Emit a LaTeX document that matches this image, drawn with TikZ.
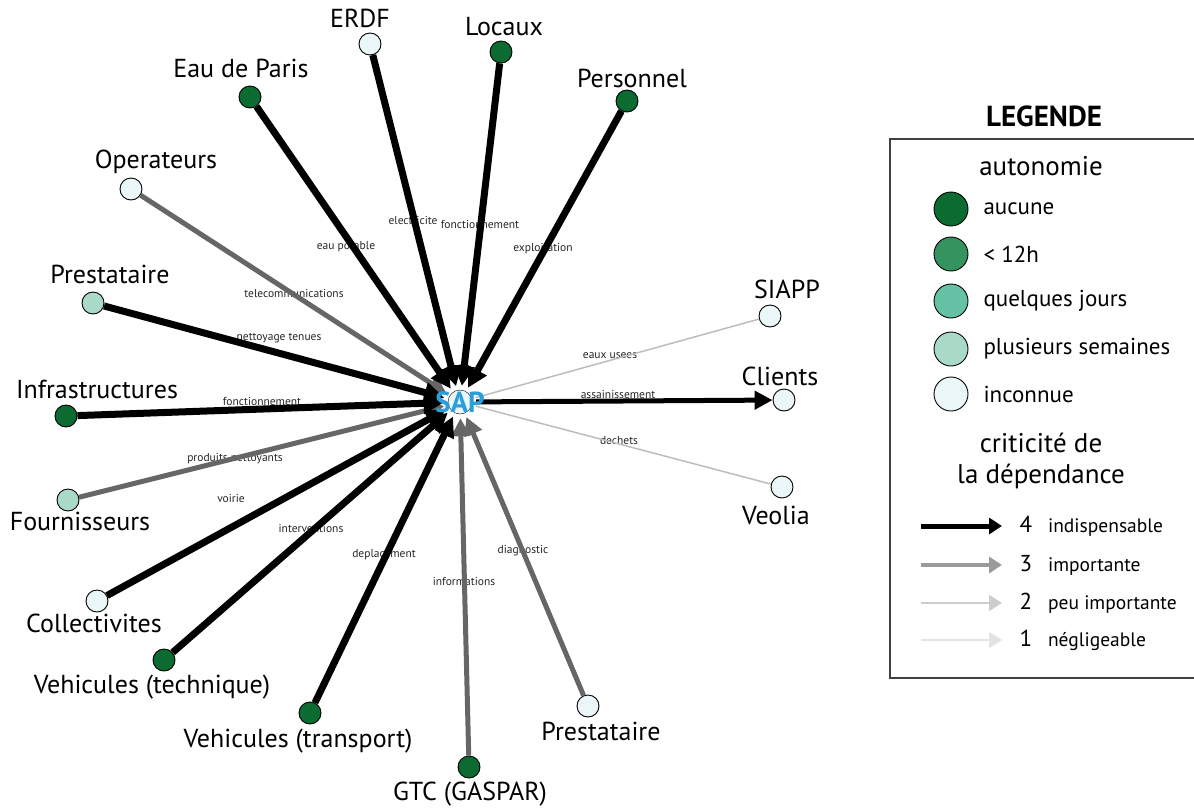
\documentclass[tikz,border=0pt]{standalone}
\usepackage{fontspec}
\setmainfont{PT Sans}
\usetikzlibrary{arrows.meta}

\definecolor{aucune}{HTML}{0B6B30}
\definecolor{douzeh}{HTML}{35935F}
\definecolor{jours}{HTML}{66C2A4}
\definecolor{semaines}{HTML}{A9DAC8}
\definecolor{inconnue}{HTML}{EBF6F9}
\definecolor{critB}{HTML}{666666}
\definecolor{critC}{HTML}{BDBDBD}
\definecolor{legB}{HTML}{9A9A9A}
\definecolor{legC}{HTML}{CCCCCC}
\definecolor{legD}{HTML}{E3E3E3}
\definecolor{sapblue}{HTML}{2A9FDC}

\begin{document}
\begin{tikzpicture}[x=1pt,y=-1pt,
    actor/.style={circle,draw,line width=0.9pt,minimum size=22pt,inner sep=0pt},
    nom/.style={font=\fontsize{26}{30}\selectfont},
    flux/.style={font=\fontsize{11.5}{13}\selectfont,text=black!85},
    crit4/.style={line width=7pt,black,-{Triangle[length=20pt,width=20pt]}},
    crit3/.style={line width=5pt,critB,-{Triangle[length=18pt,width=18pt]}},
    crit2/.style={line width=1.5pt,critC},
    legtxt/.style={font=\fontsize{23}{27}\selectfont,anchor=west},
    leghead/.style={font=\fontsize{27}{31}\selectfont,align=center}]
    \useasboundingbox (0,0) rectangle (1194,809);

    % centre
    \node[circle,minimum size=32pt,inner sep=0pt] (sap) at (460,402) {};

    % acteurs
    \node[actor,fill=inconnue] (erdf) at (370,44) {};
    \node[nom] (erdf-l) at (360,18) {ERDF};
    \node[actor,fill=aucune] (locaux) at (501,52) {};
    \node[nom] (locaux-l) at (504,27) {Locaux};
    \node[actor,fill=aucune] (eau) at (250,97) {};
    \node[nom] (eau-l) at (241,68) {Eau de Paris};
    \node[actor,fill=aucune] (perso) at (627,101) {};
    \node[nom] (perso-l) at (632,78) {Personnel};
    \node[actor,fill=inconnue] (oper) at (131,189) {};
    \node[nom] (oper-l) at (156,162) {Operateurs};
    \node[actor,fill=semaines] (prestA) at (93,303) {};
    \node[nom] (prestA-l) at (110,274) {Prestataire};
    \node[actor,fill=inconnue] (siapp) at (770,316) {};
    \node[nom] (siapp-l) at (787,289) {SIAPP};
    \node[actor,fill=inconnue] (clients) at (784,400) {};
    \node[nom] (clients-l) at (780,376) {Clients};
    \node[actor,fill=aucune] (infra) at (66,416) {};
    \node[nom] (infra-l) at (97,389) {Infrastructures};
    \node[actor,fill=inconnue] (veolia) at (782,487) {};
    \node[nom] (veolia-l) at (776,515) {Veolia};
    \node[actor,fill=semaines] (fourn) at (68,500) {};
    \node[nom] (fourn-l) at (80,521) {Fournisseurs};
    \node[actor,fill=inconnue] (coll) at (97,601) {};
    \node[nom] (coll-l) at (94,623) {Collectivites};
    \node[actor,fill=aucune] (vtech) at (164,660) {};
    \node[nom] (vtech-l) at (152,687) {Vehicules (technique)};
    \node[actor,fill=aucune] (vtrans) at (310,713) {};
    \node[nom] (vtrans-l) at (298,741) {Vehicules (transport)};
    \node[actor,fill=aucune] (gtc) at (469,767) {};
    \node[nom] (gtc-l) at (470,794) {GTC (GASPAR)};
    \node[actor,fill=inconnue] (prestB) at (588,706) {};
    \node[nom] (prestB-l) at (601,731) {Prestataire};

    % libelles des flux (sous les traits)
    \node[flux] (f-elec) at (413,220) {electricite};
    \node[flux] (f-fonc) at (480,224) {fonctionnement};
    \node[flux] (f-eau) at (346,247) {eau potable};
    \node[flux] (f-expl) at (543,249) {exploitation};
    \node[flux] (f-tele) at (294,293) {telecommunications};
    \node[flux] (f-nett) at (279,338) {nettoyage tenues};
    \node[flux] (f-usees) at (610,356) {eaux usees};
    \node[flux] (f-assai) at (618,394) {assainissement};
    \node[flux] (f-infra) at (262,401) {fonctionnement};
    \node[flux] (f-dech) at (619,441) {dechets};
    \node[flux] (f-prod) at (235,459) {produits nettoyants};
    \node[flux] (f-voir) at (231,498) {voirie};
    \node[flux] (f-inter) at (311,528) {interventions};
    \node[flux] (f-depl) at (384,555) {deplacement};
    \node[flux] (f-diag) at (523,551) {diagnostic};
    \node[flux] (f-info) at (464,581) {informations};

    % dependances
    \draw[crit2] (siapp) -- (sap);
    \draw[crit2] (veolia) -- (sap);
    \draw[crit3] (oper) -- (sap);
    \draw[crit3] (fourn) -- (sap);
    \draw[crit3] (gtc) -- (sap);
    \draw[crit3] (prestB) -- (sap);
    \draw[crit4] (erdf) -- (sap);
    \draw[crit4] (locaux) -- (sap);
    \draw[crit4] (eau) -- (sap);
    \draw[crit4] (perso) -- (sap);
    \draw[crit4] (prestA) -- (sap);
    \draw[crit4] (infra) -- (sap);
    \draw[crit4] (coll) -- (sap);
    \draw[crit4] (vtech) -- (sap);
    \draw[crit4] (vtrans) -- (sap);
    \draw[line width=5pt,-{Triangle[length=18pt,width=18pt]}] (sap) -- (clients);

    \node[circle,draw,fill=inconnue,minimum size=24pt,inner sep=0pt] (sap-c) at (sap) {};
    \node[font=\bfseries\fontsize{29}{32}\selectfont,text=sapblue] (sap-l) at (sap) {SAP};

    % legende
    \node[font=\bfseries\fontsize{29}{33}\selectfont] (leg-t) at (1044,116) {LEGENDE};
    \draw[line width=1.2pt,black!75] (890,139) rectangle (1210,678);
    \node[leghead] (leg-auto) at (1041,166) {autonomie};
    \node[actor,minimum size=34pt,fill=aucune] (l1) at (951,209) {};
    \node[legtxt] (l1-t) at (980,209) {aucune};
    \node[actor,minimum size=34pt,fill=douzeh] (l2) at (951,254) {};
    \node[legtxt] (l2-t) at (980,254) {< 12h};
    \node[actor,minimum size=34pt,fill=jours] (l3) at (951,301) {};
    \node[legtxt] (l3-t) at (980,301) {quelques jours};
    \node[actor,minimum size=34pt,fill=semaines] (l4) at (951,349) {};
    \node[legtxt] (l4-t) at (980,349) {plusieurs semaines};
    \node[actor,minimum size=34pt,fill=inconnue] (l5) at (951,394) {};
    \node[legtxt] (l5-t) at (980,394) {inconnue};
    \node[leghead] (leg-crit) at (1041,461) {criticité de\\la dépendance};

    \coordinate (a4) at (921,526); \coordinate (b4) at (1002,526);
    \coordinate (a3) at (921,565); \coordinate (b3) at (1002,565);
    \coordinate (a2) at (921,603); \coordinate (b2) at (1002,603);
    \coordinate (a1) at (921,640); \coordinate (b1) at (1002,640);
    \draw[line width=5pt,-{Triangle[length=13pt,width=16pt]}] (a4) -- (b4);
    \draw[line width=4pt,legB,-{Triangle[length=13pt,width=16pt]}] (a3) -- (b3);
    \draw[line width=2pt,legC,-{Triangle[length=13pt,width=16pt]}] (a2) -- (b2);
    \draw[line width=1.5pt,legD,-{Triangle[length=13pt,width=16pt]}] (a1) -- (b1);
    \node[legtxt] (n4) at (1016,526) {4\hspace{16pt}\fontsize{19.5}{22}\selectfont indispensable};
    \node[legtxt] (n3) at (1016,565) {3\hspace{16pt}\fontsize{19.5}{22}\selectfont importante};
    \node[legtxt] (n2) at (1016,603) {2\hspace{16pt}\fontsize{19.5}{22}\selectfont peu importante};
    \node[legtxt] (n1) at (1016,640) {1\hspace{16pt}\fontsize{19.5}{22}\selectfont négligeable};
\end{tikzpicture}
\end{document}
